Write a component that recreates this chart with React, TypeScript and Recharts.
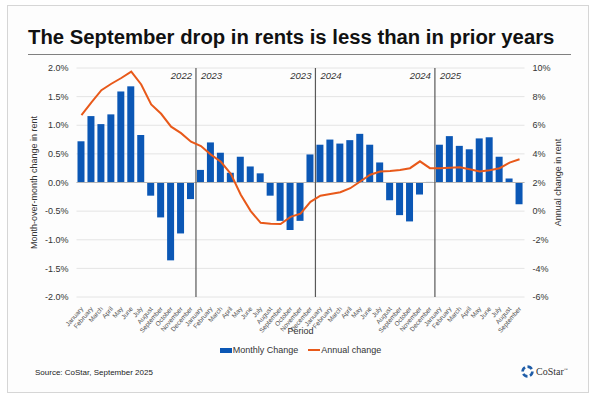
import React from 'react';
import { ComposedChart, Bar, Line, XAxis, YAxis, CartesianGrid, ReferenceLine } from 'recharts';

const years = ['2022', '2023', '2024', '2025'];
const months = ['January', 'February', 'March', 'April', 'May', 'June', 'July', 'August', 'September', 'October', 'November', 'December'];

const monthly2022 = [0.72, 1.16, 1.02, 1.19, 1.59, 1.68, 0.83, -0.23, -0.61, -1.36, -0.89, -0.29];
const monthly2023 = [0.22, 0.7, 0.52, 0.17, 0.45, 0.28, 0.16, -0.23, -0.67, -0.83, -0.67, 0.49];
const monthly2024 = [0.66, 0.75, 0.68, 0.74, 0.85, 0.66, 0.35, -0.31, -0.57, -0.68, -0.21, 0.01];
const monthly2025 = [0.66, 0.81, 0.64, 0.58, 0.77, 0.79, 0.45, 0.07, -0.38];

const annual2022 = [6.7, 7.6, 8.45, 8.9, 9.3, 9.75, 8.85, 7.45, 6.8, 5.9, 5.45, 4.85];
const annual2023 = [4.55, 3.95, 3.45, 2.6, 1.15, 0.0, -0.82, -0.88, -0.9, -0.4, -0.18, 0.65];
const annual2024 = [1.08, 1.2, 1.32, 1.6, 2.07, 2.54, 2.77, 2.8, 2.87, 3.0, 3.48, 3.0];
const annual2025 = [3.0, 3.03, 3.07, 2.92, 2.77, 2.85, 3.0, 3.39, 3.62];

const leftTicks = [-2, -1.5, -1, -0.5, 0, 0.5, 1, 1.5, 2];
const rightTicks = [-6, -4, -2, 0, 2, 4, 6, 8, 10];

const monthlyAll = [...monthly2022, ...monthly2023, ...monthly2024, ...monthly2025];
const annualAll = [...annual2022, ...annual2023, ...annual2024, ...annual2025];

const data = monthlyAll.map((m, i) => ({
  key: `${months[i % 12]} ${years[Math.floor(i / 12)]}`,
  month: months[i % 12],
  monthly: m,
  annual: annualAll[i],
}));

const separators = [
  { at: 'January 2023', prev: '2022', next: '2023' },
  { at: 'January 2024', prev: '2023', next: '2024' },
  { at: 'January 2025', prev: '2024', next: '2025' },
];

const FONT = '"Liberation Sans", Arial, sans-serif';
const BLUE = '#0B57B5';
const ORANGE = '#E8591A';

const MonthTick = (props: any) => {
  const { x, y, payload } = props;
  const label = String(payload.value).split(' ')[0];
  return (
    <text
      x={x + 2}
      y={y + 4}
      transform={`rotate(-50, ${x + 2}, ${y + 4})`}
      textAnchor="end"
      fontSize={6.5}
      fill="#555"
      fontFamily={FONT}
    >
      {label}
    </text>
  );
};

const YearLabels = (props: any) => {
  const { viewBox, prev, next } = props;
  const x = viewBox?.x ?? 0;
  const y = viewBox?.y ?? 0;
  return (
    <g>
      <text x={x - 4} y={y + 11} textAnchor="end" fontSize={9.5} fontStyle="italic" fill="#333" fontFamily={FONT}>
        {prev}
      </text>
      <text x={x + 5} y={y + 11} textAnchor="start" fontSize={9.5} fontStyle="italic" fill="#333" fontFamily={FONT}>
        {next}
      </text>
    </g>
  );
};

const LeftAxisLabel = (props: any) => {
  const { viewBox } = props;
  const cx = viewBox.x + 37;
  const cy = viewBox.y + viewBox.height / 2;
  return (
    <text x={cx} y={cy} transform={`rotate(-90, ${cx}, ${cy})`} textAnchor="middle" fontSize={9} fill="#333" fontFamily={FONT}>
      Month-over-month change in rent
    </text>
  );
};

const RightAxisLabel = (props: any) => {
  const { viewBox } = props;
  const cx = viewBox.x + 36;
  const cy = viewBox.y + viewBox.height / 2;
  return (
    <text x={cx} y={cy} transform={`rotate(-90, ${cx}, ${cy})`} textAnchor="middle" fontSize={9} fill="#333" fontFamily={FONT}>
      Annual change in rent
    </text>
  );
};

const PeriodLabel = (props: any) => {
  const { viewBox } = props;
  return (
    <text x={viewBox.x + viewBox.width / 2} y={334} textAnchor="middle" fontSize={9} fill="#333" fontFamily={FONT}>
      Period
    </text>
  );
};

const CoStarLogo = () => (
  <div style={{ position: 'absolute', left: 521, top: 365, display: 'flex', alignItems: 'center' }}>
    <svg width={13} height={13} viewBox="0 0 16 16">
      <g fill="none" stroke="#1F5DA8" strokeWidth={3.2}>
        <path d="M8 2 A6 6 0 0 1 13.2 5" />
        <path d="M14 8 A6 6 0 0 1 11 13.2" />
        <path d="M8 14 A6 6 0 0 1 2.8 11" />
        <path d="M2 8 A6 6 0 0 1 5 2.8" />
      </g>
    </svg>
    <span style={{ fontFamily: '"Liberation Serif", serif', fontSize: 10, color: '#333', marginLeft: 2 }}>
      CoStar<sup style={{ fontSize: 4 }}>™</sup>
    </span>
  </div>
);

export default function App() {
  return (
    <div style={{ position: 'absolute', left: 0, top: 0, width: 595, height: 399, background: '#fff', overflow: 'hidden' }}>
      <div
        style={{
          position: 'absolute',
          left: 7,
          top: 5,
          width: 580,
          height: 386,
          border: '1px solid #d6d6d6',
          background: '#fdfdfd',
        }}
      />
      <div
        style={{
          position: 'absolute',
          left: 28,
          top: 26,
          fontFamily: FONT,
          fontWeight: 'bold',
          fontSize: 20.3,
          color: '#111',
          whiteSpace: 'nowrap',
        }}
      >
        The September drop in rents is less than in prior years
      </div>
      <div style={{ position: 'absolute', left: 28, top: 54, width: 543, borderTop: '1.5px solid #808080' }} />

      <div style={{ position: 'absolute', left: 0, top: 0 }}>
        <ComposedChart
          width={595}
          height={399}
          data={data}
          margin={{ top: 68, right: 0, bottom: 62, left: 0 }}
          barCategoryGap="15%"
        >
          <CartesianGrid yAxisId="left" vertical={false} stroke="#e4e4e4" />
          <XAxis
            dataKey="key"
            interval={0}
            height={40}
            axisLine={false}
            tickLine={false}
            tick={<MonthTick />}
            label={<PeriodLabel />}
          />
          <YAxis
            yAxisId="left"
            orientation="left"
            width={76.5}
            domain={[-2, 2]}
            ticks={leftTicks}
            axisLine={false}
            tickLine={false}
            tickFormatter={(v: number) => `${v.toFixed(1)}%`}
            tick={{ fontSize: 9, fill: '#333', fontFamily: FONT }}
            label={<LeftAxisLabel />}
          />
          <YAxis
            yAxisId="right"
            orientation="right"
            width={70.5}
            domain={[-6, 10]}
            ticks={rightTicks}
            axisLine={false}
            tickLine={false}
            tickFormatter={(v: number) => `${v}%`}
            tick={{ fontSize: 9, fill: '#333', fontFamily: FONT, textAnchor: 'start' }}
            label={<RightAxisLabel />}
          />
          <ReferenceLine yAxisId="left" y={0} stroke="#b5b5b5" strokeWidth={1} />
          {separators.map((s) => (
            <ReferenceLine
              key={s.at}
              yAxisId="left"
              x={s.at}
              position="start"
              stroke="#595959"
              strokeWidth={1.2}
              label={<YearLabels prev={s.prev} next={s.next} />}
            />
          ))}
          <Bar yAxisId="left" dataKey="monthly" name="Monthly Change" fill={BLUE} barSize={7} isAnimationActive={false} />
          <Line
            yAxisId="right"
            dataKey="annual"
            name="Annual change"
            type="linear"
            stroke={ORANGE}
            strokeWidth={2}
            dot={false}
            isAnimationActive={false}
          />
        </ComposedChart>
      </div>

      <div
        style={{
          position: 'absolute',
          left: 0,
          width: 595,
          top: 345,
          display: 'flex',
          justifyContent: 'center',
          alignItems: 'center',
          fontFamily: FONT,
          fontSize: 9,
          color: '#333',
        }}
      >
        <div style={{ display: 'flex', alignItems: 'center', marginLeft: 6 }}>
          <span style={{ display: 'inline-block', width: 12, height: 5, background: BLUE, marginRight: 1 }} />
          <span>Monthly Change</span>
          <span style={{ display: 'inline-block', width: 12, height: 2, background: ORANGE, marginLeft: 10, marginRight: 1 }} />
          <span>Annual change</span>
        </div>
      </div>

      <div style={{ position: 'absolute', left: 35, top: 368, fontFamily: FONT, fontSize: 8, color: '#222' }}>
        Source: CoStar, September 2025
      </div>
      <CoStarLogo />
    </div>
  );
}
